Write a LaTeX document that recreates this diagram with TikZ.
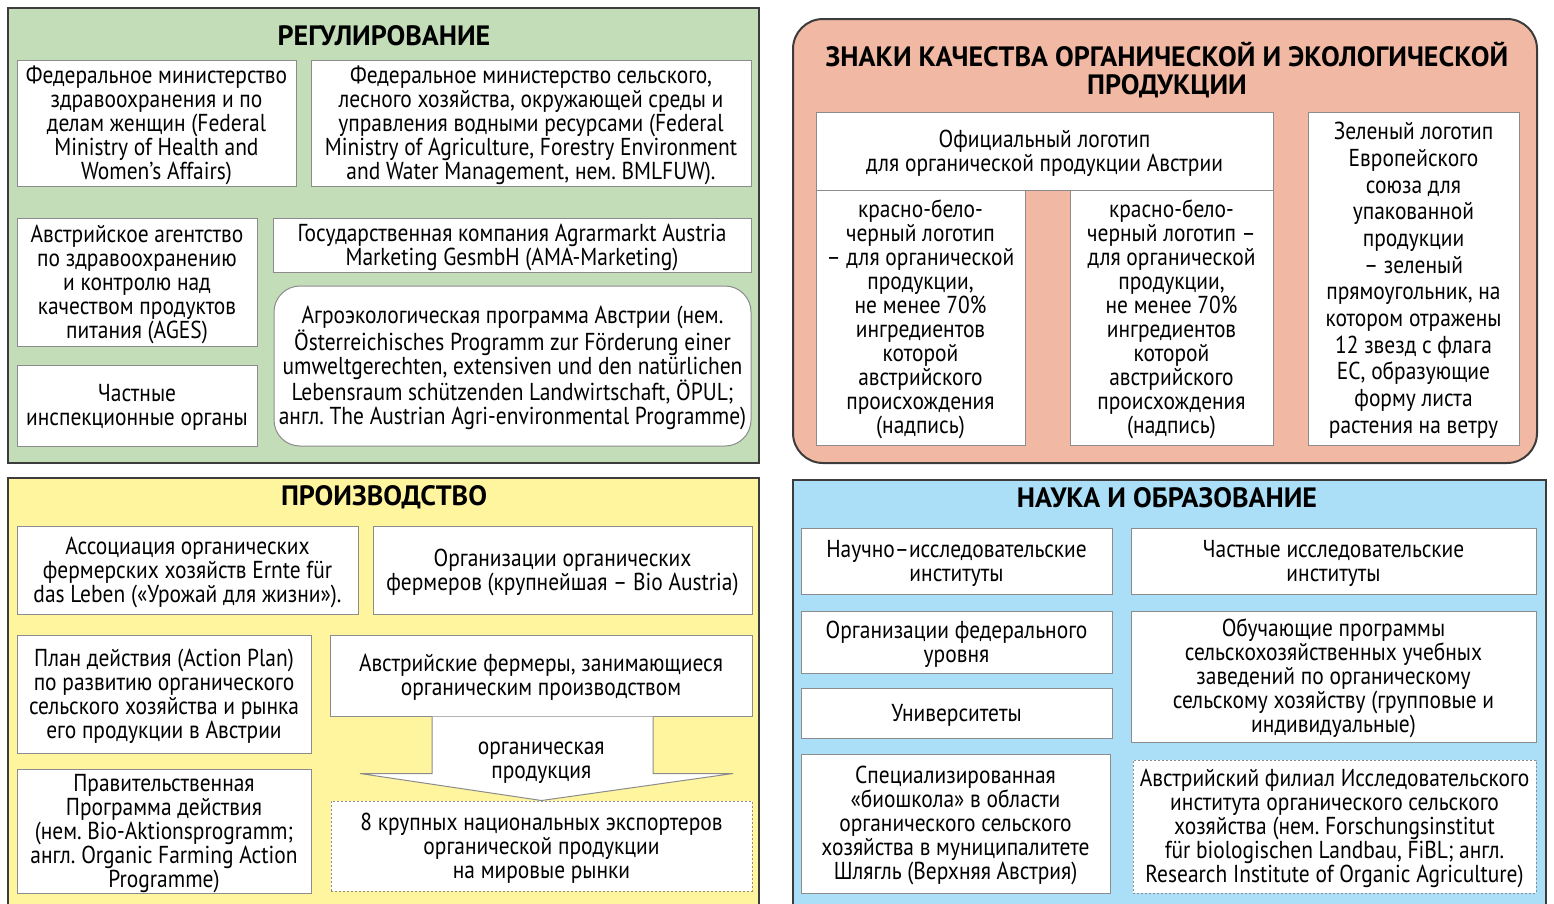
\documentclass[tikz,border=0pt]{standalone}
\usepackage{fontspec}
\setmainfont{PT Sans}[FakeStretch=0.875]
\newfontfamily\headfont{PT Sans}[FakeStretch=1.0]
\usetikzlibrary{calc,positioning}
\definecolor{regfill}{HTML}{C2DDB8}
\definecolor{markfill}{HTML}{F1B9A4}
\definecolor{prodfill}{HTML}{FFF59E}
\definecolor{scifill}{HTML}{AADFF7}
\definecolor{panelline}{HTML}{3C3C3C}
\definecolor{boxline}{HTML}{8C8C8C}
\frenchspacing

\tikzset{
  panel/.style={draw=panelline, line width=2pt, inner sep=0pt},
  lbl/.style={align=flush center, inner sep=0pt, text width=#1, font=\fontsize{24.5}{24}\selectfont,
    execute at begin node=\rule{0pt}{22pt}, execute at end node=\rule[-6pt]{0pt}{6pt}},
  box/.style={lbl=#1, draw=boxline, line width=1pt, fill=white},
  dotbox/.style={box=#1, dash pattern=on 2pt off 2pt},
  ptitle/.style={align=center, font=\headfont\fontsize{28}{28}\selectfont\bfseries},
}

\begin{document}
\begin{tikzpicture}[x=1pt, y=-1pt]
\clip (0,0) rectangle (1554,903);
\fill[white] (0,0) rectangle (1554,903);

\node[panel, fill=regfill, minimum width=751pt, minimum height=455pt] (reg) at (383.5,235.5) {};
\node[ptitle] (regtitle) at (384,36) {РЕГУЛИРОВАНИЕ};
\node[box=279pt, minimum height=126pt] (fedhealth) at (156.5,123)
  {Федеральное министерство\\здравоохранения и по\\делам женщин (Federal\\Ministry of Health and\\Women’s Affairs)};
\node[box=440pt, minimum height=126pt] (fedagri) at (531,123)
  {Федеральное министерство сельского,\\лесного хозяйства, окружающей среды и\\управления водными ресурсами (Federal\\Ministry of Agriculture, Forestry Environment\\and Water Management, нем. BMLFUW).};
\node[box=240pt, minimum height=128pt] (ages) at (137,282)
  {Австрийское агентство\\по здравоохранению\\и контролю над\\качеством продуктов\\питания (AGES)};
\node[box=478pt, minimum height=54pt] (ama) at (512,245)
  {Государственная компания Agrarmarkt Austria\\Marketing GesmbH (AMA-Marketing)};
\node[box=477pt, rounded corners=26pt, minimum height=160pt] (opul) at (512.5,366)
  {Агроэкологическая программа Австрии (нем.\\Österreichisches Programm zur Förderung einer\\umweltgerechten, extensiven und den natürlichen\\Lebensraum schützenden Landwirtschaft, ÖPUL;\\англ. The Austrian Agri-environmental Programme)};
\node[box=240pt, minimum height=81pt] (inspect) at (137,405.5)
  {Частные\\инспекционные органы};

\node[panel, fill=markfill, rounded corners=30pt, minimum width=744pt, minimum height=444pt] (mark) at (1165,241) {};
\node[ptitle] (marktitle) at (1167,70) {ЗНАКИ КАЧЕСТВА ОРГАНИЧЕСКОЙ И ЭКОЛОГИЧЕСКОЙ\\ПРОДУКЦИИ};
\node[box=457pt, minimum height=78pt] (austlogo) at (1044.5,151)
  {Официальный логотип\\для органической продукции Австрии};
\node[box=209pt, minimum height=255pt] (logoa) at (920.5,317.5)
  {красно-бело-\\черный логотип\\– для органической\\продукции,\\не менее 70\%\\ингредиентов\\которой\\австрийского\\происхождения\\(надпись)};
\node[box=203pt, minimum height=255pt] (logob) at (1171.5,317.5)
  {красно-бело-\\черный логотип –\\для органической\\продукции,\\не менее 70\%\\ингредиентов\\которой\\австрийского\\происхождения\\(надпись)};
\node[box=211pt, font=\fontsize{24.5}{26.7}\selectfont, minimum height=333pt] (eulogo) at (1413.5,278.5)
  {Зеленый логотип\\Европейского\\союза для\\упакованной\\продукции\\– зеленый\\прямоугольник, на\\котором отражены\\12 звезд с флага\\ЕС, образующие\\форму листа\\растения на ветру};

\node[panel, fill=prodfill, minimum width=751pt, minimum height=437pt] (prod) at (383.5,696.5) {};
\node[ptitle] (prodtitle) at (384,497) {ПРОИЗВОДСТВО};
\node[box=341pt, minimum height=88pt] (ernte) at (187.5,570)
  {Ассоциация органических\\фермерских хозяйств Ernte für\\das Leben («Урожай для жизни»).};
\node[box=379pt, minimum height=88pt] (bioaustria) at (562.5,570)
  {Организации органических\\фермеров (крупнейшая – Bio Austria)};
\node[box=294pt, minimum height=118pt] (actionplan) at (164,694)
  {План действия (Action Plan)\\по развитию органического\\сельского хозяйства и рынка\\его продукции в Австрии};
\node[box=422pt, minimum height=81pt] (farmers) at (541,675.5)
  {Австрийские фермеры, занимающиеся\\органическим производством};
\node[box=294pt, minimum height=119pt] (govprog) at (164,831.5)
  {Правительственная\\Программа действия\\(нем. Bio-Aktionsprogramm;\\англ. Organic Farming Action\\Programme)};
\node[dotbox=421pt, minimum height=90pt] (export) at (541.5,846)
  {8 крупных национальных экспортеров\\органической продукции\\на мировые рынки};
\draw[boxline, line width=1pt, fill=white]
  ($(farmers.south)+(-109,0)$) -- ++(0,57) -- ($(farmers.south)+(-181,57)$)
  -- (export.north) -- ($(farmers.south)+(192,57)$) -- ($(farmers.south)+(112,57)$)
  -- ($(farmers.south)+(112,0)$);
\node[lbl=200pt] (flow) at ($(farmers.south)!0.5!(export.north)$)
  {органическая\\продукция};

\node[panel, fill=scifill, minimum width=753pt, minimum height=435pt] (sci) at (1169.5,697.5) {};
\node[ptitle] (scititle) at (1167,498) {НАУКА И ОБРАЗОВАНИЕ};
\node[box=311pt, minimum height=66pt] (research) at (956.5,561)
  {Научно–исследовательские\\институты};
\node[box=405pt, minimum height=66pt] (private) at (1333.5,561)
  {Частные исследовательские\\институты};
\node[box=311pt, minimum height=62pt] (federal) at (956.5,642)
  {Организации федерального\\уровня};
\node[box=311pt, minimum height=50pt] (univ) at (956.5,713)
  {Университеты};
\node[box=405pt, minimum height=131pt] (training) at (1333.5,676.5)
  {Обучающие программы\\сельскохозяйственных учебных\\заведений по органическому\\сельскому хозяйству (групповые и\\индивидуальные)};
\node[box=309pt, minimum height=139pt] (bioschool) at (955.5,823.5)
  {Специализированная\\«биошкола» в области\\органического сельского\\хозяйства в муниципалитете\\Шлягль (Верхняя Австрия)};
\node[dotbox=403pt, minimum height=133pt] (fibl) at (1334.5,826.5)
  {Австрийский филиал Исследовательского\\института органического сельского\\хозяйства (нем. Forschungsinstitut\\für biologischen Landbau, FiBL; англ.\\Research Institute of Organic Agriculture)};
\end{tikzpicture}
\end{document}
